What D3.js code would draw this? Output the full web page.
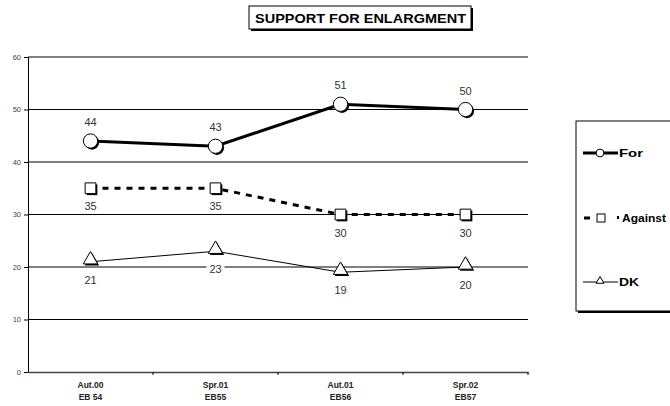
<!DOCTYPE html>
<html>
<head>
<meta charset="utf-8">
<script src="https://cdn.jsdelivr.net/npm/d3@7"></script>
<style>
  body { margin: 0; background: #fff; }
  svg { font-family: Arial, "Liberation Sans", sans-serif; }
</style>
</head>
<body>
<svg id="chart" width="670" height="406"></svg>
<script>
// data
var waves = ["Aut.00", "Spr.01", "Aut.01", "Spr.02"];
var surveys = ["EB 54", "EB55", "EB56", "EB57"];
var forVals = [44, 43, 51, 50];
var againstVals = [35, 35, 30, 30];
var dkVals = [21, 23, 19, 20];
var yTicks = [0, 10, 20, 30, 40, 50, 60];

var svg = d3.select("#chart");

var x = d3.scaleBand().domain(waves).range([28, 528]);
var y = d3.scaleLinear().domain([0, 60]).range([372, 57]);

// gridlines
svg.append("g").selectAll("line")
  .data(yTicks.filter(function(d){ return d > 0; }))
  .enter().append("line")
    .attr("x1", 28).attr("x2", 528)
    .attr("y1", function(d){ return y(d); })
    .attr("y2", function(d){ return y(d); })
    .attr("stroke", "#000").attr("stroke-width", 1);

// y axis
var yAxis = svg.append("g").attr("transform", "translate(28,0)")
  .call(d3.axisLeft(y).tickValues(yTicks).tickSize(4).tickPadding(3));
yAxis.select(".domain").attr("stroke", "#000");
yAxis.selectAll("text").attr("font-size", 7.5).attr("fill", "#444").attr("font-family", "Arial");

// x axis
var xAxis = svg.append("g").attr("transform", "translate(0,372)")
  .call(d3.axisBottom(x).tickSize(0).tickFormat(""));
xAxis.select(".domain").attr("stroke", "#444").attr("stroke-width", 1.5);
svg.append("g").selectAll("line")
  .data(waves).enter().append("line")
    .attr("x1", function(d){ return x(d) + x.bandwidth(); })
    .attr("x2", function(d){ return x(d) + x.bandwidth(); })
    .attr("y1", 372).attr("y2", 375)
    .attr("stroke", "#000");

var xl = svg.append("g").selectAll("g").data(waves).enter().append("g");
xl.append("text")
  .attr("x", function(d){ return x(d) + x.bandwidth()/2; })
  .attr("y", 388).attr("text-anchor", "middle")
  .attr("font-size", 8.5).attr("font-weight", "bold").attr("fill", "#222")
  .text(function(d){ return d; });
xl.append("text")
  .attr("x", function(d){ return x(d) + x.bandwidth()/2; })
  .attr("y", 400).attr("text-anchor", "middle")
  .attr("font-size", 8.5).attr("font-weight", "bold").attr("fill", "#222")
  .text(function(d, i){ return surveys[i]; });

var cx = function(d, i){ return x(waves[i]) + x.bandwidth()/2; };

var series = [
  { name: "For", vals: forVals, width: 3, dash: null, marker: "circle", labelAbove: true },
  { name: "Against", vals: againstVals, width: 3, dash: "6,6", marker: "square", labelAbove: false },
  { name: "DK", vals: dkVals, width: 1, dash: null, marker: "triangle", labelAbove: false }
];

function markerPath(type, size) {
  if (type == "circle") return d3.symbol().type(d3.symbolCircle).size(size * 1.6)();
  if (type == "square") return d3.symbol().type(d3.symbolSquare).size(size)();
  return d3.symbol().type(d3.symbolTriangle).size(size * 0.9)();
}

// value labels (white background boxes)
series.forEach(function(s){
  var g = svg.append("g");
  s.vals.forEach(function(v, i){
    var px = cx(v, i);
    var py = s.labelAbove ? y(v) - 15 : y(v) + 22;
    g.append("rect")
      .attr("x", px - 9).attr("y", py - 10).attr("width", 18).attr("height", 13)
      .attr("fill", "#fff");
    g.append("text")
      .attr("x", px).attr("y", py).attr("text-anchor", "middle")
      .attr("font-size", 11).attr("fill", "#333")
      .text(v);
  });
});

// lines and markers
series.forEach(function(s){
  var line = d3.line().x(cx).y(function(d){ return y(d); });
  svg.append("path").datum(s.vals)
    .attr("d", line)
    .attr("fill", "none").attr("stroke", "#000")
    .attr("stroke-width", s.width)
    .attr("stroke-dasharray", s.dash);
  var size = s.marker == "square" ? 115 : 100;
  var m = svg.append("g").selectAll("g").data(s.vals).enter().append("g")
    .attr("transform", function(d, i){ return "translate(" + cx(d, i) + "," + (y(d) + (s.marker == "triangle" ? -2 : 0)) + ")"; });
  m.append("path").attr("d", markerPath(s.marker, size))
    .attr("transform", "translate(1.5,1.5)").attr("fill", "#000");
  m.append("path").attr("d", markerPath(s.marker, size))
    .attr("fill", "#fff").attr("stroke", "#000").attr("stroke-width", 1);
});

// title
svg.append("rect").attr("x", 251).attr("y", 8).attr("width", 222).attr("height", 23).attr("fill", "#000");
svg.append("rect").attr("x", 249).attr("y", 6).attr("width", 222).attr("height", 23)
  .attr("fill", "#fff").attr("stroke", "#000");
svg.append("text").attr("x", 255).attr("y", 22.5)
  .attr("textLength", 211).attr("lengthAdjust", "spacingAndGlyphs")
  .attr("font-size", 13.5).attr("font-weight", "bold").text("SUPPORT FOR ENLARGMENT");

// legend
var lg = svg.append("g");
lg.append("rect").attr("x", 578).attr("y", 123).attr("width", 100).attr("height", 190).attr("fill", "#000");
lg.append("rect").attr("x", 576).attr("y", 121).attr("width", 100).attr("height", 190)
  .attr("fill", "#fff").attr("stroke", "#000");
var legY = [153, 218, 282];
var legW = [24, 44, 20];
series.forEach(function(s, i){
  var ly = legY[i];
  var tx = 619;
  if (s.name == "Against") {
    lg.append("line").attr("x1", 584).attr("x2", 590).attr("y1", ly).attr("y2", ly)
      .attr("stroke", "#000").attr("stroke-width", 3);
    lg.append("rect").attr("x", 597).attr("y", ly - 4).attr("width", 8).attr("height", 8)
      .attr("fill", "#fff").attr("stroke", "#000");
    lg.append("rect").attr("x", 617).attr("y", ly - 2).attr("width", 2).attr("height", 3).attr("fill", "#000");
    tx = 622;
  } else {
    lg.append("line").attr("x1", 583).attr("x2", 618).attr("y1", ly).attr("y2", ly)
      .attr("stroke", "#000").attr("stroke-width", s.width);
    lg.append("path").attr("d", markerPath(s.marker, 30))
      .attr("transform", "translate(600," + (ly - (s.marker == "triangle" ? 1 : 0)) + ")")
      .attr("fill", "#fff").attr("stroke", "#000");
  }
  lg.append("text").attr("x", tx).attr("y", ly + 4)
    .attr("textLength", legW[i]).attr("lengthAdjust", "spacingAndGlyphs")
    .attr("font-size", 11).attr("font-weight", "bold").text(s.name);
});
</script>
</body>
</html>
